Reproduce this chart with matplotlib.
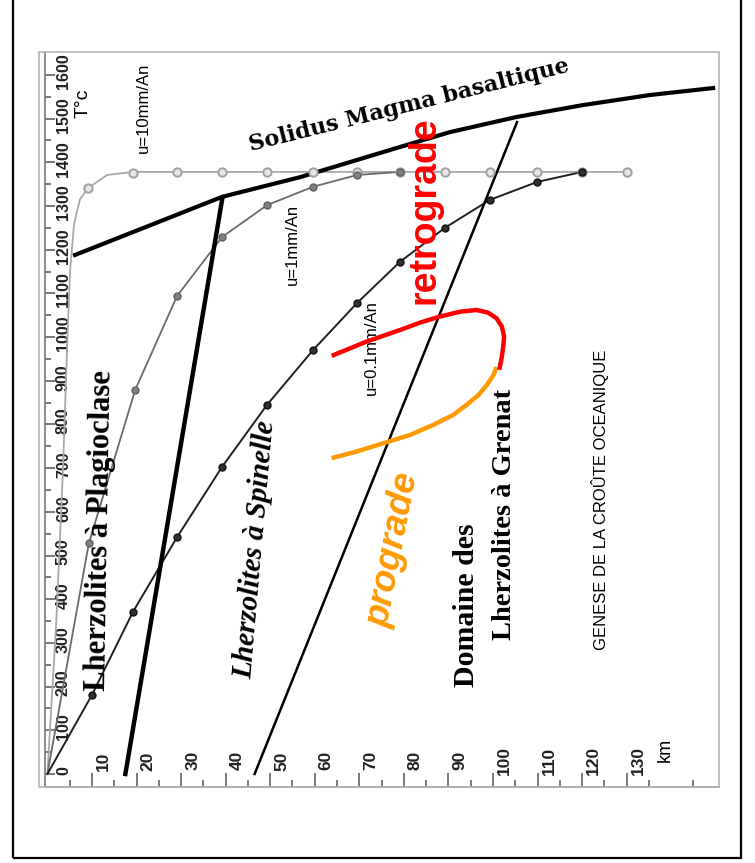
"""
Genèse de la croûte océanique : géothermes, solidus du magma basaltique
et domaines de stabilité des lherzolites (axes pivotés, T vers le haut).
"""

import matplotlib.pyplot as plt
from matplotlib.patches import Rectangle

# --- Géothermes (profondeur km, température °C) ---
prof_u10 = [0, 2.0, 3.5, 4.5, 5.1, 6.0, 7.3, 9.1, 13.4, 19.2, 130.1]
temp_u10 = [0, 350, 700, 1000, 1154, 1260, 1315, 1341, 1371, 1378, 1378]
prof_u10_pts = [9.1, 19.2, 29.1, 39.2, 49.3, 59.6, 69.5, 79.1, 89.2, 99.3, 109.9, 120.0, 130.1]
temp_u10_pts = [1341, 1376, 1378, 1378, 1378, 1378, 1378, 1378, 1378, 1378, 1378, 1378, 1378]

prof_u1 = [0, 9.3, 19.7, 29.1, 39.2, 49.3, 59.6, 69.5, 79.1]
temp_u1 = [0, 528, 879, 1094, 1229, 1302, 1344, 1371, 1378]

prof_u01 = [0, 10.0, 19.2, 29.1, 39.2, 49.3, 59.6, 69.5, 79.1, 89.2, 99.3, 109.9, 120.0]
temp_u01 = [0, 181, 371, 542, 703, 845, 970, 1078, 1172, 1250, 1314, 1355, 1378]

# --- Limites ---
prof_solidus = [6.2, 22.6, 39.2, 56.7, 79.1, 90.3, 105.4, 120.2, 135.2, 149.4]
temp_solidus = [1188, 1254, 1321, 1366, 1435, 1469, 1504, 1531, 1554, 1570]

prof_plag_spin = [17.5, 39.2]
temp_plag_spin = [0, 1314]

prof_spin_gren = [46.5, 105.4]
temp_spin_gren = [0, 1492]

# --- Chemins P-T ---
prof_prograde = [63.8, 69.4, 75.4, 81.4, 86.6, 91.1, 94.1, 96.7, 98.6, 100.1, 100.8]
temp_prograde = [723, 738, 757, 776, 799, 822, 845, 867, 890, 913, 931]

prof_retrograde = [63.8, 71.7, 79.1, 83.6, 88.1, 92.6, 96.3, 98.9, 100.8, 102.0,
                   102.5, 102.3, 102.0, 101.4]
temp_retrograde = [957, 990, 1016, 1033, 1047, 1058, 1062, 1056, 1043, 1024,
                   1001, 978, 955, 925]

# --- Graduations ---
temp_ticks = list(range(0, 1700, 100))
prof_ticks = list(range(10, 140, 10))

NARROW = ["Liberation Sans Narrow", "Liberation Sans", "DejaVu Sans"]
SERIF = ["Liberation Serif", "DejaVu Serif"]
SANS = ["Liberation Sans", "DejaVu Sans"]

W, H = 755, 863
fig = plt.figure(figsize=(W / 100, H / 100), dpi=100)
ax = fig.add_axes([45 / W, 1 - 787 / H, (719 - 45) / W, (787 - 52) / H])
ax.set_xlim(-0.54, 150.73)
ax.set_ylim(-29.8, 1652.5)

# cadres
fig.add_artist(Rectangle((39 / W, 1 - 787 / H), (719 - 39) / W, (787 - 52) / H,
                         transform=fig.transFigure, fill=False, ec="#b5b5b5", lw=1.2))
fig.add_artist(Rectangle((13 / W, 1 - 858 / H), (741 - 13) / W, 1.0,
                         transform=fig.transFigure, fill=False, ec="black", lw=1.6))

for s in ["top", "right"]:
    ax.spines[s].set_visible(False)
ax.spines["left"].set_color("#777777")
ax.spines["bottom"].set_color("#888888")
ax.spines["left"].set_linewidth(1.2)
ax.spines["bottom"].set_linewidth(1.2)

ax.set_xticks(prof_ticks)
ax.set_xticks([v + 5 for v in range(0, 145, 10)], minor=True)
ax.set_yticks(temp_ticks)
ax.set_yticks([v + 50 for v in range(0, 1600, 100)], minor=True)
ax.tick_params(axis="both", which="both", direction="in", colors="#555555",
               labelleft=False, labelbottom=False)
ax.tick_params(axis="x", which="major", length=10, width=1.1)
ax.tick_params(axis="x", which="minor", length=5, width=1.1)
ax.tick_params(axis="y", which="major", length=7, width=1.1)
ax.tick_params(axis="y", which="minor", length=4, width=1.1)

for t in temp_ticks:
    ax.text(3.6, t + 8, str(t), rotation=90, ha="center", va="center",
            fontsize=11.5, fontweight="bold", family=NARROW, color="#222222")
for p in prof_ticks:
    ax.text(p + 2.6, 30, str(p), rotation=90, ha="center", va="center",
            fontsize=12.5, fontweight="bold", family=NARROW, color="#222222")

# géothermes
ax.plot(prof_u10, temp_u10, color="#a8a8a8", lw=1.3, zorder=3)
ax.plot(prof_u10_pts, temp_u10_pts, ls="none", marker="o", ms=6, mfc="#e6e6e6",
        mec="#a0a0a0", mew=1.4, zorder=4)
ax.plot(prof_u1, temp_u1, color="#6a6a6a", lw=1.3, zorder=3)
ax.plot(prof_u1[1:], temp_u1[1:], ls="none", marker="o", ms=5, mfc="#808080",
        mec="#606060", zorder=4)
ax.plot(prof_u01, temp_u01, color="#202020", lw=1.4, zorder=3)
ax.plot(prof_u01[1:], temp_u01[1:], ls="none", marker="o", ms=5, mfc="#303030",
        mec="#111111", zorder=4)

# limites
ax.plot(prof_solidus, temp_solidus, color="black", lw=3.0, zorder=3)
ax.plot(prof_plag_spin, temp_plag_spin, color="black", lw=3.2, zorder=3)
ax.plot(prof_spin_gren, temp_spin_gren, color="black", lw=1.8, zorder=3)

# chemins
ax.plot(prof_prograde, temp_prograde, color="#ff9900", lw=3.2, zorder=5,
        solid_capstyle="butt", solid_joinstyle="round")
ax.plot(prof_retrograde, temp_retrograde, color="#ff0000", lw=3.2, zorder=5,
        solid_capstyle="butt", solid_joinstyle="round")

# textes
ax.text(8.0, 1536, "T°c", rotation=90, ha="center", va="center", fontsize=14,
        family=SANS)
ax.text(21.5, 1524, "u=10mm/An", rotation=90, ha="center", va="center",
        fontsize=12, family=NARROW)
ax.text(54.9, 1211, "u=1mm/An", rotation=90, ha="center", va="center",
        fontsize=12, family=NARROW)
ax.text(72.8, 975, "u=0.1mm/An", rotation=90, ha="center", va="center",
        fontsize=12, family=NARROW)
ax.text(81.1, 1529, "Solidus Magma basaltique", rotation=14, ha="center",
        va="center", fontsize=16, fontweight="bold",
        family=["DejaVu Serif", "Liberation Serif"])
ax.text(84.7, 1291, "retrograde", rotation=90, ha="center", va="center",
        fontsize=27, fontweight="bold", family=SANS, color="#ff0000")
ax.text(77.6, 513, "prograde", rotation=79, ha="center", va="center",
        fontsize=26, fontweight="bold", fontstyle="italic", family=SANS,
        color="#ff9900")
ax.text(11.8, 558, "Lherzolites à Plagioclase", rotation=89, ha="center",
        va="center", fontsize=22, fontweight="bold", family=SERIF)
ax.text(46.6, 513, "Lherzolites à Spinelle", rotation=85, ha="center",
        va="center", fontsize=21, fontweight="bold", fontstyle="italic",
        family=SERIF)
ax.text(94.0, 387, "Domaine des", rotation=90, ha="center", va="center",
        fontsize=21.5, fontweight="bold", family=SERIF)
ax.text(102.7, 593, "Lherzolites à Grenat", rotation=90, ha="center",
        va="center", fontsize=20.5, fontweight="bold", family=SERIF)
ax.text(124.0, 627, "GENESE DE LA CROÛTE OCEANIQUE", rotation=90, ha="center",
        va="center", fontsize=12, family=NARROW)
ax.text(138.6, 55, "km", rotation=90, ha="center", va="center", fontsize=13,
        family=SANS)

fig.savefig("out.png", dpi=100)
